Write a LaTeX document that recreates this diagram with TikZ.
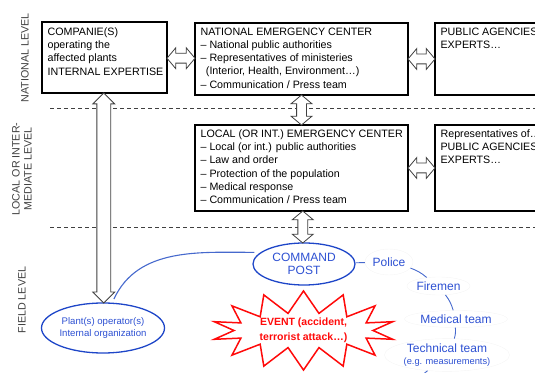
\documentclass[tikz,border=0pt]{standalone}
\usepackage{fontspec}
\setmainfont{Liberation Sans}
\usetikzlibrary{calc,shapes.geometric,shapes.arrows,shapes.symbols}
\definecolor{emblue}{RGB}{30,70,200}
\definecolor{emtxtblue}{RGB}{45,80,210}
\definecolor{emlinkblue}{RGB}{70,105,205}
\definecolor{emred}{RGB}{255,10,10}
\definecolor{emgray}{RGB}{64,64,64}

\begin{document}
\begin{tikzpicture}[x=1pt, y=1pt,
  lvlbox/.style={draw, line width=1.2pt, inner sep=0pt},
  boxtxt/.style={anchor=north west, align=left, inner sep=0pt,
    font=\fontsize{10.7}{13.3}\selectfont},
  lvltxt/.style={rotate=90, align=center, text=emgray,
    font=\fontsize{10.7}{12}\selectfont},
  blockarr/.style={double arrow, draw=emgray, fill=white, line width=0.8pt,
    inner sep=4.5pt, minimum width=0pt, double arrow head extend=5.5pt,
    double arrow tip angle=100},
  fieldell/.style={ellipse, draw=emblue, line width=1.3pt, inner sep=0pt,
    text=emtxtblue, align=center},
  team/.style={ellipse, draw=black!4, inner sep=0pt, text=emtxtblue,
    align=center, font=\fontsize{12}{12.5}\selectfont},
  link/.style={emlinkblue, line width=0.9pt},
  sep/.style={emgray, line width=0.7pt, dash pattern=on 4pt off 3pt}]
\useasboundingbox (0,0) rectangle (535,372);
\clip (0,0) rectangle (535,372);
% Levels
\node[lvltxt] (natlvl) at (25,314) {NATIONAL LEVEL};
\node[lvltxt] (loclvl) at (22,203) {LOCAL OR INTER-\\MEDIATE LEVEL};
\node[lvltxt] (fldlvl) at (22,72) {FIELD LEVEL};
\draw[sep] (50,264) -- (535,264);
\draw[sep] (50,145) -- (535,145);
% National level
\node[lvlbox, minimum width=125pt, minimum height=71pt] (comp) at (104.5,314.5) {};
\node[boxtxt] (comptxt) at ([shift={(6pt,-6pt)}]comp.north west)
  {COMPANIE(S)\\operating the\\affected plants\\INTERNAL EXPERTISE};
\node[lvlbox, minimum width=213pt, minimum height=72pt] (natl) at (301.5,313) {};
\node[boxtxt] (natltxt) at ([shift={(6pt,-5pt)}]natl.north west)
  {NATIONAL EMERGENCY CENTER\\
   -- National public authorities\\
   -- Representatives of ministeries\\
   \hspace*{0.5em}(Interior, Health, Environment…)\\
   -- Communication / Press team};
\node[lvlbox, minimum width=213pt, minimum height=72pt] (pub) at (541.5,313) {};
\node[boxtxt] (pubtxt) at ([shift={(6pt,-5pt)}]pub.north west)
  {PUBLIC AGENCIES\\EXPERTS…};
% Local level
\node[lvlbox, minimum width=213pt, minimum height=86pt] (loc) at (301.5,204) {};
\node[boxtxt] (loctxt) at ([shift={(6pt,-5pt)}]loc.north west)
  {LOCAL (OR INT.) EMERGENCY CENTER\\
   -- Local (or int.) public authorities\\
   -- Law and order\\
   -- Protection of the population\\
   -- Medical response\\
   -- Communication / Press team};
\node[lvlbox, minimum width=213pt, minimum height=86pt] (rep) at (541.5,204) {};
\node[boxtxt] (reptxt) at ([shift={(6pt,-5pt)}]rep.north west)
  {Representatives of…\\PUBLIC AGENCIES\\EXPERTS…};
% Field level
\node[fieldell, minimum width=102pt, minimum height=42pt,
  font=\fontsize{12}{13.5}\selectfont] (cp) at (304,108) {COMMAND\\POST};
\node[fieldell, minimum width=122pt, minimum height=50pt,
  font=\fontsize{9.6}{12}\selectfont] (plant) at (103,44)
  {Plant(s) operator(s)\\Internal organization};
\node[starburst, draw=emred, line width=1.5pt, fill=white,
  starburst points=14, starburst point height=22pt, random starburst=0,
  minimum width=183pt, minimum height=75pt, inner sep=0pt, align=center,
  text=emred, font=\bfseries\fontsize{10.5}{15}\selectfont] (event)
  at (303.5,41.5) {EVENT (accident,\\terrorist attack…)};
\node[team, minimum width=48pt, minimum height=26pt] (police) at (389,110) {Police};
\node[team, minimum width=63pt, minimum height=18pt] (fire) at (438.5,86) {Firemen};
\node[team, minimum width=103pt, minimum height=17pt] (med) at (456,53) {Medical team};
\node[team, minimum width=125pt, minimum height=28pt] (tech) at (447,17)
  {Technical team\\{\fontsize{9.3}{11}\selectfont(e.g. measurements)}};
\coordinate (below) at (421,-4);
% Block arrows
\node[blockarr, minimum height=28pt] (a1) at ($(comp.east)!.5!(natl.west)$) {};
\node[blockarr, minimum height=27pt] (a2) at ($(natl.east)!.5!(pub.west)$) {};
\node[blockarr, minimum height=27pt] (a3) at ($(loc.east)!.5!(rep.west)$) {};
\node[blockarr, rotate=90, minimum height=30pt] (a4) at ($(natl.south)!.5!(loc.north)$) {};
\node[blockarr, rotate=90, minimum height=32pt] (a5) at ($(loc.south)!.5!(cp.north)$) {};
\node[blockarr, rotate=90, minimum height=210pt, inner sep=6.5pt,
  double arrow head extend=4pt, double arrow tip angle=90] (a6)
  at ($(comp.south)!.5!(plant.north)$) {};
% Field links
\draw[link, line width=1.1pt, shorten <=6pt, shorten >=4pt]
  (cp.165) to[out=180, in=65] (plant.70);
\draw[link] (cp) -- (police);
\draw[link] (police) to[bend left=10] (fire);
\draw[link] (fire) to[bend left=10] (med);
\draw[link] (med) to[bend left=10] (tech);
\draw[link] (tech) -- (below);
\end{tikzpicture}
\end{document}
